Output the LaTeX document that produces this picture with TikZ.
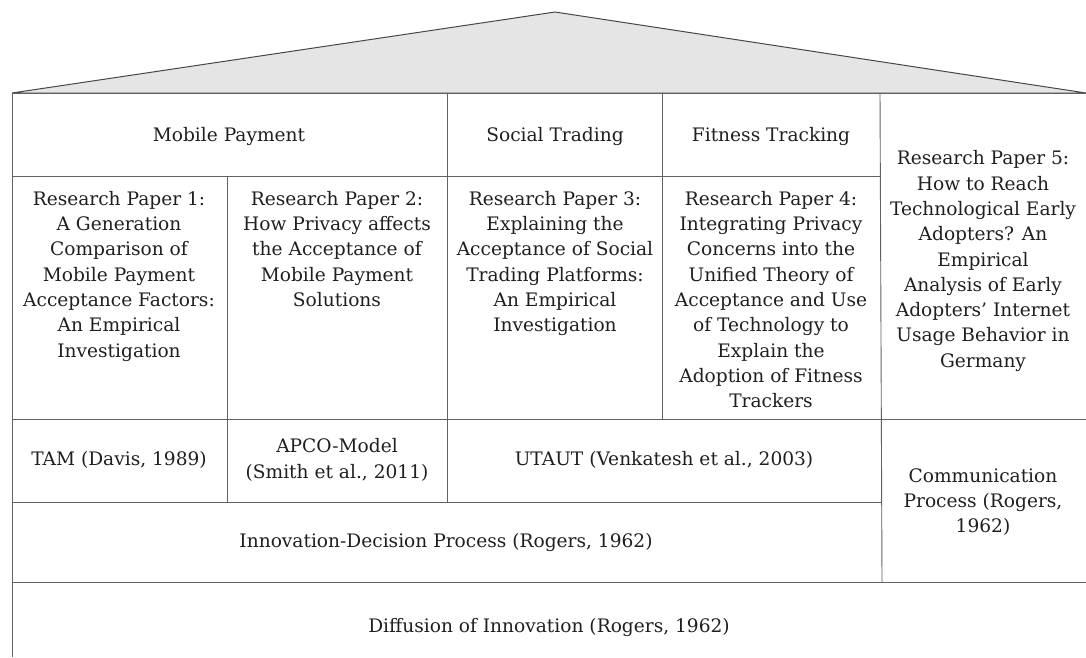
\documentclass[tikz,border=0pt]{standalone}
\usepackage{fontspec}
\setmainfont{DejaVu Serif}
\begin{document}
\begin{tikzpicture}[x=1pt,y=-1pt,
  grid/.style={draw=black!62,line width=0.9pt},
  roof/.style={draw=black!72,fill=black!10,line width=1pt,line join=miter},
  lbl/.style={inner sep=0pt,align=center,font=\fontsize{18.6}{25.3}\selectfont,text=black!88}]
\useasboundingbox (0,0) rectangle (1086,657);
% roof
\draw[roof] (12,93) -- (555,12) -- (1086,93) -- cycle;
% grid lines
\draw[grid] (12,93) -- (1086,93);
\draw[grid] (12,93) -- (12,657);
\draw[grid] (12,176) -- (880,176);
\draw[grid] (447,93) -- (447,502);
\draw[grid] (662,93) -- (662,419);
\draw[grid] (227,176) -- (227,502);
\draw[grid] (880,93) -- (882,582);
\draw[grid] (12,419) -- (1086,419);
\draw[grid] (12,502) -- (881,502);
\draw[grid] (12,582) -- (1086,582);
% headers
\node[lbl] (mp) at (229,136) {Mobile Payment};
\node[lbl] (st) at (555,136) {Social Trading};
\node[lbl] (ft) at (771,136) {Fitness Tracking};
% papers
\node[lbl,anchor=north] (p1) at (119,191) {Research Paper 1:\\A Generation\\Comparison of\\Mobile Payment\\Acceptance Factors:\\An Empirical\\Investigation};
\node[lbl,anchor=north] (p2) at (337,191) {Research Paper 2:\\How Privacy affects\\the Acceptance of\\Mobile Payment\\Solutions};
\node[lbl,anchor=north] (p3) at (555,191) {Research Paper 3:\\Explaining the\\Acceptance of Social\\Trading Platforms:\\An Empirical\\Investigation};
\node[lbl,anchor=north] (p4) at (771,191) {Research Paper 4:\\Integrating Privacy\\Concerns into the\\Unified Theory of\\Acceptance and Use\\of Technology to\\Explain the\\Adoption of Fitness\\Trackers};
\node[lbl] (p5) at (983,261) {Research Paper 5:\\How to Reach\\Technological Early\\Adopters? An\\Empirical\\Analysis of Early\\Adopters’ Internet\\Usage Behavior in\\Germany};
% theories
\node[lbl] (tam) at (119,460) {TAM (Davis, 1989)};
\node[lbl] (apco) at (337,460) {APCO-Model\\(Smith et al., 2011)};
\node[lbl] (utaut) at (664,460) {UTAUT (Venkatesh et al., 2003)};
\node[lbl] (idp) at (446,542) {Innovation-Decision Process (Rogers, 1962)};
\node[lbl] (comm) at (983,502) {Communication\\Process (Rogers,\\1962)};
\node[lbl] (doi) at (549,627) {Diffusion of Innovation (Rogers, 1962)};
\end{tikzpicture}
\end{document}
